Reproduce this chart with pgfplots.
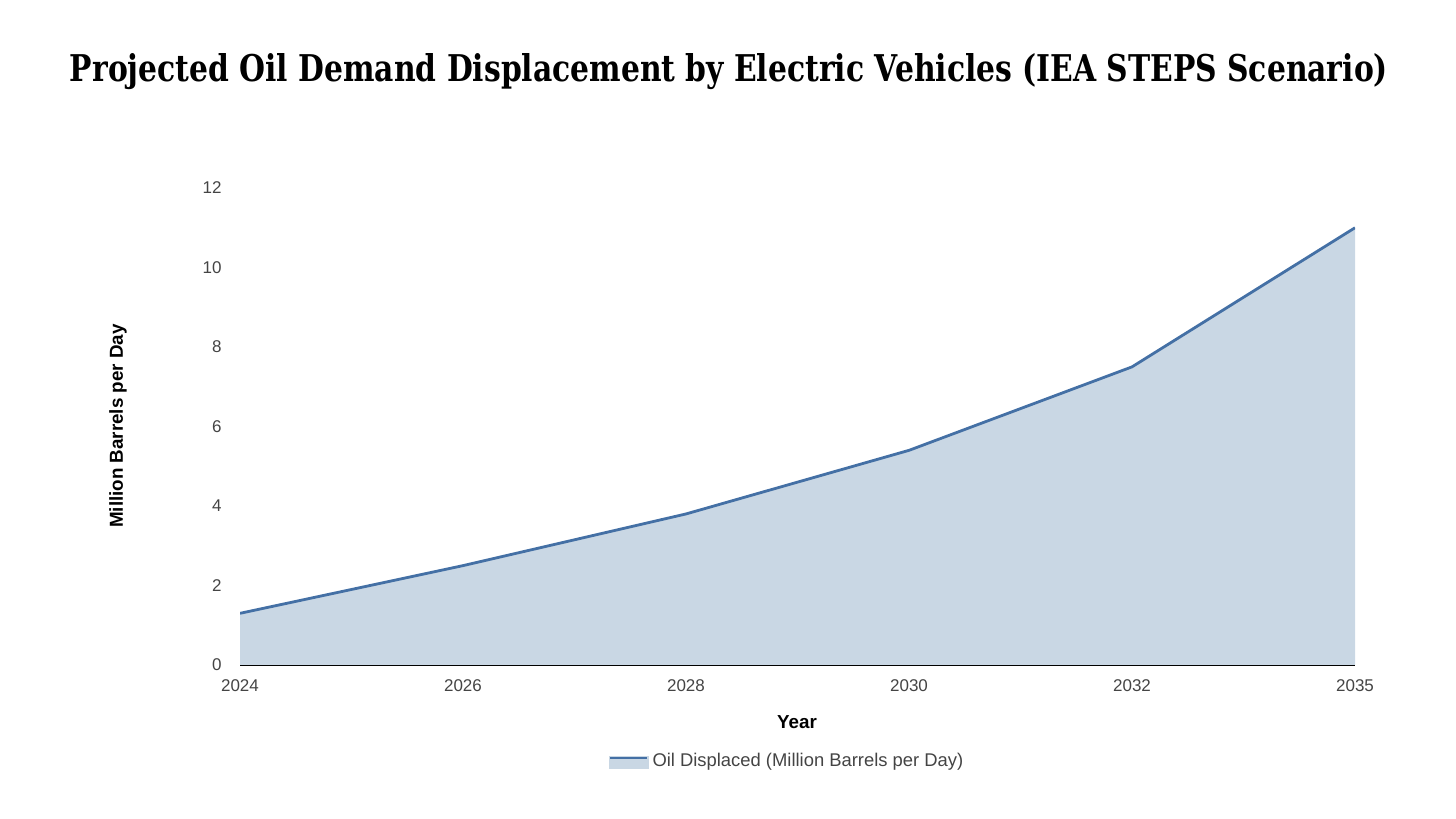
\documentclass[border=0pt]{standalone}
\usepackage{pgfplots}
\pgfplotsset{compat=1.18}
\usepackage{fontspec}
\setmainfont{Liberation Sans}
\newfontfamily\titlefont{DejaVu Serif}

\definecolor{linecol}{RGB}{68,112,165}
\definecolor{fillcol}{RGB}{201,215,228}
\definecolor{tickcol}{RGB}{68,68,68}

\begin{document}
\begin{tikzpicture}
\path[use as bounding box] (0,0) rectangle (728bp,409.5bp);
\node[anchor=base, inner sep=0pt] at (364.5bp,368.5bp)
  {\resizebox{659bp}{14bp}{\titlefont\bfseries Projected Oil Demand Displacement by Electric Vehicles (IEA STEPS Scenario)}};
\begin{axis}[
    at={(120bp,77bp)}, anchor=south west,
    scale only axis,
    width=557.5bp, height=238.5bp,
    xmin=0, xmax=5, ymin=0, ymax=12,
    xtick={0,1,2,3,4,5},
    xticklabels={2024,2026,2028,2030,2032,2035},
    ytick={0,2,...,12},
    axis x line*=bottom, axis y line*=left,
    axis line style={-},
    x axis line style={black, line width=0.9bp},
    y axis line style={draw=none},
    major tick length=0pt,
    tick label style={font=\fontsize{8.5bp}{10bp}\selectfont, text=tickcol},
    /pgf/number format/assume math mode=true,
    xticklabel style={anchor=north, inner sep=0pt, yshift=-7bp},
    yticklabel style={anchor=east, inner sep=0pt, xshift=-9bp},
    xlabel={Year},
    ylabel={Million Barrels per Day},
    label style={font=\fontsize{9.4bp}{11bp}\selectfont\bfseries},
    xlabel style={at={(axis description cs:0.4996,-0.1195)}, anchor=center},
    ylabel style={at={(axis description cs:-0.1094,0.501)}, anchor=center, rotate=0},
    legend style={at={(axis description cs:0.4915,-0.201)}, anchor=center,
        draw=none, fill=none, font=\fontsize{9.2bp}{11bp}\selectfont, text=tickcol,
        inner sep=0pt},
    legend cell align=left,
    legend image code/.code={
        \fill[fillcol] (0bp,-3.5bp) rectangle (18.5bp,1.5bp);
        \draw[linecol, line width=1.2bp] (0bp,1.5bp) -- (18.5bp,1.5bp);
    },
]
\addplot[fill=fillcol, draw=none, forget plot] coordinates {
    (0,1.3) (1,2.5) (2,3.8) (3,5.4) (4,7.5) (5,11.0)
} \closedcycle;
\addplot[linecol, line width=1.4bp, mark=none] coordinates {
    (0,1.3) (1,2.5) (2,3.8) (3,5.4) (4,7.5) (5,11.0)
};
\addlegendentry{Oil Displaced (Million Barrels per Day)}
\end{axis}
\end{tikzpicture}
\end{document}
